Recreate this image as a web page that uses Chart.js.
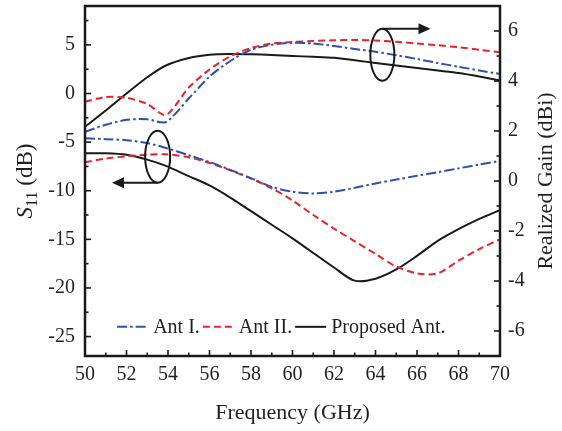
<!DOCTYPE html>
<html>
<head>
<meta charset="utf-8">
<script src="https://cdn.jsdelivr.net/npm/chart.js@4.4.0/dist/chart.umd.min.js"></script>
<style>
  html, body { margin: 0; padding: 0; background: #fff; }
</style>
</head>
<body>
<canvas id="myChart" width="562" height="431"></canvas>
<script>
// frequency samples (GHz)
const freq = [50, 51, 52, 53, 53.9, 55, 56, 57, 58, 59, 60, 61, 62, 63, 64, 65, 66, 67, 68, 69, 70];

// S11 (dB), left axis
const s11AntI     = [-4.6, -4.7, -4.8, -5.1, -5.6, -6.35, -7.05, -7.85, -8.7, -9.6, -10.1, -10.28, -10.1, -9.7, -9.25, -8.85, -8.46, -8.1, -7.7, -7.3, -6.94];
const s11AntII    = [-7.08, -6.7, -6.45, -6.3, -6.26, -6.55, -7.15, -7.9, -8.75, -9.75, -11.0, -12.5, -13.9, -15.2, -16.5, -17.8, -18.5, -18.5, -17.2, -16.0, -15.0];
const s11Proposed = [-6.15, -6.15, -6.3, -6.8, -7.45, -8.5, -9.45, -10.7, -12.1, -13.5, -14.9, -16.4, -17.9, -19.25, -19.05, -18.1, -16.7, -15.15, -13.95, -12.9, -12.0];

// realized gain (dBi), right axis
const gainAntI     = [1.97, 2.25, 2.45, 2.47, 2.36, 3.3, 4.18, 4.8, 5.25, 5.45, 5.53, 5.5, 5.4, 5.28, 5.17, 5.03, 4.88, 4.72, 4.57, 4.42, 4.28];
const gainAntII    = [3.17, 3.36, 3.33, 3.08, 2.64, 3.74, 4.46, 4.99, 5.32, 5.5, 5.56, 5.6, 5.63, 5.64, 5.62, 5.57, 5.5, 5.43, 5.35, 5.25, 5.15];
const gainProposed = [2.17, 2.82, 3.5, 4.15, 4.62, 4.92, 5.05, 5.08, 5.07, 5.04, 5.0, 4.97, 4.93, 4.83, 4.72, 4.62, 4.52, 4.42, 4.32, 4.18, 4.02];

const labels = ['Ant I.', 'Ant II.', 'Proposed Ant.'];
const xTicks = [50, 70];
const s11Range = [-27, 9];
const gainRange = [-7, 7];

const BLUE = '#3050ac';
const RED = '#ec2228';
const BLACK = '#1a1a1a';
const SERIF = '"Liberation Serif", "Times New Roman", serif';
const TEXT = '#231f20';

function pts(ys) {
    return ys.map((v, i) => ({ x: freq[i], y: v }));
}

const styles = [
    { color: BLUE, dash: [10, 3, 2.5, 3] },
    { color: RED, dash: [7, 4] },
    { color: BLACK, dash: [] }
];

const s11Sets = [s11AntI, s11AntII, s11Proposed];
const gainSets = [gainAntI, gainAntII, gainProposed];

const datasets = [];
s11Sets.forEach((ys, i) => {
    datasets.push({
        label: labels[i], data: pts(ys), yAxisID: 'y',
        borderColor: styles[i].color, borderDash: styles[i].dash,
        borderWidth: 2, pointRadius: 0, tension: 0.3, fill: false
    });
});
gainSets.forEach((ys, i) => {
    datasets.push({
        label: labels[i] + ' gain', data: pts(ys), yAxisID: 'y1',
        borderColor: styles[i].color, borderDash: styles[i].dash,
        borderWidth: 2, pointRadius: 0, tension: 0.25, fill: false
    });
});

function line(ctx, x1, y1, x2, y2) {
    ctx.beginPath();
    ctx.moveTo(x1, y1);
    ctx.lineTo(x2, y2);
    ctx.stroke();
}

function arrow(ctx, x1, y1, x2, y2) {
    const dir = Math.sign(x2 - x1);
    line(ctx, x1, y1, x2 - dir * 8, y2);
    ctx.beginPath();
    ctx.moveTo(x2, y2);
    ctx.lineTo(x2 - dir * 12, y2 - 5.5);
    ctx.lineTo(x2 - dir * 12, y2 + 5.5);
    ctx.closePath();
    ctx.fill();
}

// box, inward ticks, titles, legend, annotation ellipses
const decorations = {
    id: 'decorations',
    afterDraw: (chart) => {
        const { ctx, chartArea: { left, right, top, bottom }, scales: { x, y, y1 } } = chart;
        ctx.save();
        ctx.strokeStyle = BLACK;
        ctx.fillStyle = BLACK;

        ctx.lineWidth = 2.5;
        ctx.strokeRect(left, top, right - left, bottom - top);

        ctx.lineWidth = 1.6;
        for (let v = xTicks[0]; v <= xTicks[1]; v += 1) {
            const px = x.getPixelForValue(v);
            line(ctx, px, bottom, px, bottom - (v % 2 === 0 ? 6 : 3.5));
        }
        for (let v = -25; v <= s11Range[1]; v += 2.5) {
            const py = y.getPixelForValue(v);
            line(ctx, left, py, left + (v % 5 === 0 ? 6 : 3.5), py);
        }
        for (let v = -6; v <= gainRange[1]; v += 1) {
            const py = y1.getPixelForValue(v);
            line(ctx, right, py, right - (v % 2 === 0 ? 6 : 3.5), py);
        }

        // axis titles
        ctx.fillStyle = TEXT;
        ctx.textBaseline = 'alphabetic';
        ctx.font = '22px ' + SERIF;
        ctx.textAlign = 'center';
        ctx.fillText('Frequency (GHz)', (left + right) / 2, 419);

        const midY = (top + bottom) / 2;
        // left title: S11 (dB)
        ctx.save();
        ctx.translate(32, midY);
        ctx.rotate(-Math.PI / 2);
        ctx.textAlign = 'left';
        ctx.font = 'italic 23px ' + SERIF;
        const wS = ctx.measureText('S').width;
        ctx.font = '16px ' + SERIF;
        const w11 = ctx.measureText('11').width;
        ctx.font = '23px ' + SERIF;
        const wDb = ctx.measureText(' (dB)').width;
        let sx = -(wS + w11 + wDb) / 2;
        ctx.font = 'italic 23px ' + SERIF;
        ctx.fillText('S', sx, 0);
        sx += wS;
        ctx.font = '16px ' + SERIF;
        ctx.fillText('11', sx, 5);
        sx += w11;
        ctx.font = '23px ' + SERIF;
        ctx.fillText(' (dB)', sx, 0);
        ctx.restore();

        // right title
        ctx.save();
        ctx.translate(552, midY);
        ctx.rotate(-Math.PI / 2);
        ctx.textAlign = 'center';
        ctx.font = '22px ' + SERIF;
        ctx.fillText('Realized Gain (dBi)', 0, 0);
        ctx.restore();

        // legend inside the plot
        ctx.font = '20px ' + SERIF;
        ctx.textAlign = 'left';
        ctx.textBaseline = 'middle';
        let lx = x.getPixelForValue(51.55);
        const ly = y.getPixelForValue(-24);
        for (let i = 0; i < 3; i++) {
            const ds = chart.data.datasets[i];
            ctx.save();
            ctx.strokeStyle = ds.borderColor;
            ctx.lineWidth = 2;
            ctx.setLineDash(ds.borderDash);
            line(ctx, lx, ly, lx + 31, ly);
            ctx.restore();
            lx += 36;
            ctx.fillStyle = TEXT;
            ctx.fillText(ds.label, lx, ly + 1);
            lx += ctx.measureText(ds.label).width + 3;
        }

        // ellipse markers with arrows
        ctx.strokeStyle = BLACK;
        ctx.fillStyle = BLACK;
        ctx.lineWidth = 2;
        const c1x = x.getPixelForValue(53.5), c1y = y.getPixelForValue(-6.5);
        ctx.beginPath();
        ctx.ellipse(c1x, c1y, 12.5, 26, 0, 0, Math.PI * 2);
        ctx.stroke();
        arrow(ctx, c1x, c1y + 26, x.getPixelForValue(51.3), c1y + 26);

        const c2x = x.getPixelForValue(64.33), c2y = y1.getPixelForValue(5.05);
        ctx.beginPath();
        ctx.ellipse(c2x, c2y, 12, 26, 0, 0, Math.PI * 2);
        ctx.stroke();
        arrow(ctx, c2x, c2y - 26, x.getPixelForValue(66.65), c2y - 26);

        ctx.restore();
    }
};

const tickFont = { family: SERIF, size: 20 };

const config = {
    type: 'line',
    data: { datasets },
    options: {
        responsive: false,
        animation: false,
        devicePixelRatio: 1,
        layout: { padding: { top: 6, left: 0, right: 0, bottom: 0 } },
        plugins: { legend: { display: false }, tooltip: { enabled: false } },
        scales: {
            x: {
                type: 'linear', position: 'bottom',
                min: xTicks[0], max: xTicks[1],
                ticks: { stepSize: 2, font: tickFont, color: TEXT, padding: 7, maxRotation: 0, includeBounds: false },
                grid: { drawOnChartArea: false, drawTicks: false },
                border: { display: false },
                afterFit: (s) => { s.height = 75; s.paddingLeft = 0; s.paddingRight = 0; }
            },
            y: {
                type: 'linear', position: 'left',
                min: s11Range[0], max: s11Range[1],
                ticks: { stepSize: 5, font: tickFont, color: TEXT, padding: 10, includeBounds: false, autoSkip: false },
                afterBuildTicks: (s) => { s.ticks = s.ticks.filter(t => Math.abs(t.value % 5) < 1e-6); },
                grid: { drawOnChartArea: false, drawTicks: false },
                border: { display: false },
                afterFit: (s) => { s.width = 85; s.paddingTop = 0; s.paddingBottom = 0; }
            },
            y1: {
                type: 'linear', position: 'right',
                min: gainRange[0], max: gainRange[1],
                ticks: { stepSize: 1, font: tickFont, color: TEXT, padding: 8, includeBounds: false, autoSkip: false },
                afterBuildTicks: (s) => { s.ticks = s.ticks.filter(t => Math.abs(t.value % 2) < 1e-6); },
                grid: { drawOnChartArea: false, drawTicks: false },
                border: { display: false },
                afterFit: (s) => { s.width = 62; s.paddingTop = 0; s.paddingBottom = 0; }
            }
        }
    },
    plugins: [decorations]
};

const myChart = new Chart(document.getElementById('myChart'), config);
</script>
</body>
</html>
